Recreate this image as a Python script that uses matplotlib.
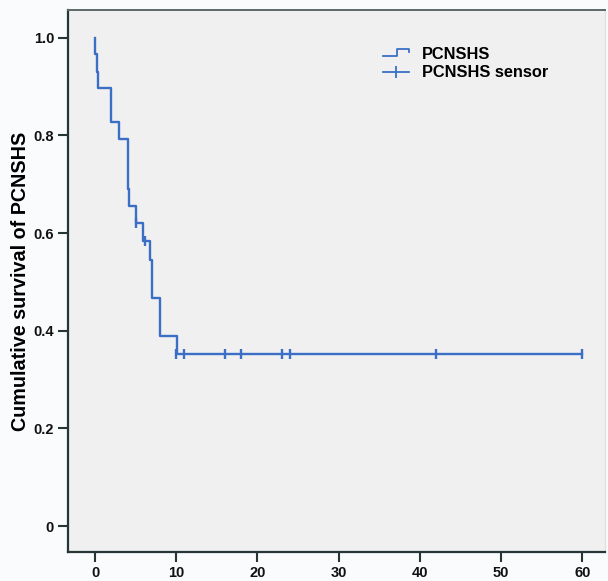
import matplotlib
matplotlib.use("Agg")
import matplotlib.pyplot as plt
from matplotlib.lines import Line2D
from matplotlib.legend_handler import HandlerBase

# Kaplan-Meier step data (time, cumulative survival)
step_times = [0, 0, 0.2, 0.4, 2.0, 3.0, 4.0, 4.2, 5.0, 5.9, 6.8, 7.0, 8.0, 10.1, 60]
step_surv = [1.0, 0.966, 0.931, 0.897, 0.828, 0.793, 0.690, 0.655, 0.621, 0.584, 0.545, 0.467, 0.389, 0.352, 0.352]

# censored observations
censor_times = [5.1, 6.2, 10, 11, 16, 18, 23, 24, 42, 60]
censor_surv = [0.621, 0.584, 0.352, 0.352, 0.352, 0.352, 0.352, 0.352, 0.352, 0.352]

x_ticks = [0, 10, 20, 30, 40, 50, 60]
y_ticks = [0, 0.2, 0.4, 0.6, 0.8, 1.0]
y_tick_labels = ["0", "0.2", "0.4", "0.6", "0.8", "1.0"]
legend_labels = ["PCNSHS", "PCNSHS sensor"]

BLUE = "#3b6fc6"
DARK = "#263535"

plt.rcParams["font.family"] = ["Liberation Sans", "DejaVu Sans"]
plt.rcParams["font.weight"] = "bold"

fig = plt.figure(figsize=(6.08, 5.81), dpi=100, facecolor="#fafbfd")
ax = fig.add_axes([68 / 608, 29 / 581, 537 / 608, 542 / 581])
ax.set_facecolor("#f0f0f0")

ax.plot(step_times, step_surv, drawstyle="steps-post", color=BLUE, lw=1.7)
ax.plot(censor_times, censor_surv, linestyle="none", marker="|", markersize=7,
        markeredgewidth=1.7, color=BLUE)

ax.set_xlim(-3.33, 62.8)
ax.set_ylim(-0.053, 1.057)
ax.set_xticks(x_ticks)
ax.set_yticks(y_ticks)
ax.set_yticklabels(y_tick_labels)
ax.tick_params(axis="both", direction="out", length=7, width=1.5, color=DARK,
               labelsize=10.5, labelcolor="#111111", pad=3)

for side in ["left", "bottom"]:
    ax.spines[side].set_color(DARK)
    ax.spines[side].set_linewidth(1.6)
ax.spines["top"].set_color("#5c6868")
ax.spines["top"].set_linewidth(1.4)
ax.spines["right"].set_color("#e6dada")
ax.spines["right"].set_linewidth(0.8)

ax.set_ylabel("Cumulative survival of PCNSHS", fontsize=14.2, fontweight="bold")
ax.yaxis.set_label_coords(-(68 - 30) / 537, 0.5)


class StepHandler(HandlerBase):
    def create_artists(self, legend, orig_handle, xdescent, ydescent, width,
                       height, fontsize, trans):
        x0 = -xdescent
        mid = x0 + width * 0.55
        ylo = -ydescent + height * 0.25
        yhi = -ydescent + height * 0.85
        ln = Line2D([x0, mid, mid, x0 + width, x0 + width],
                    [ylo, ylo, yhi, yhi, yhi - height * 0.2],
                    color=BLUE, lw=1.3, transform=trans)
        return [ln]


class CensorHandler(HandlerBase):
    def create_artists(self, legend, orig_handle, xdescent, ydescent, width,
                       height, fontsize, trans):
        x0 = -xdescent
        yc = -ydescent + height * 0.5
        ln = Line2D([x0, x0 + width], [yc, yc], color=BLUE, lw=1.3, transform=trans)
        tk = Line2D([x0 + width * 0.5], [yc], marker="|", markersize=8,
                    markeredgewidth=1.3, color=BLUE, transform=trans)
        return [ln, tk]


h1 = Line2D([], [], color=BLUE)
h2 = Line2D([], [], color=BLUE, marker="|")
leg = ax.legend([h1, h2], legend_labels,
                handler_map={h1: StepHandler(), h2: CensorHandler()},
                loc="upper left", bbox_to_anchor=(383 / 608, 1 - 47 / 581),
                bbox_transform=fig.transFigure, frameon=False,
                borderaxespad=0, handlelength=1.6, handletextpad=0.8,
                borderpad=0, labelspacing=0.2,
                prop={"size": 11.8, "weight": "bold"})

fig.savefig("out.png", dpi=100, facecolor=fig.get_facecolor())
